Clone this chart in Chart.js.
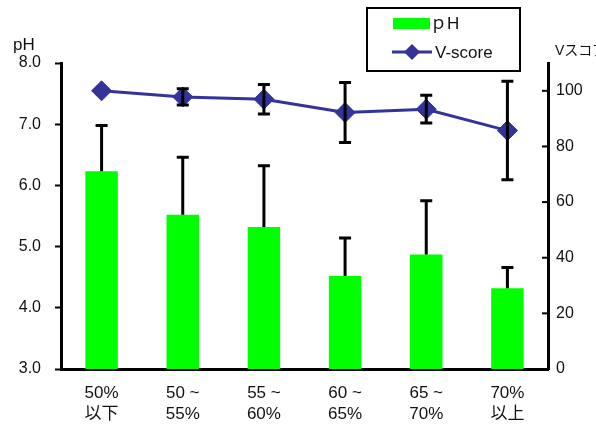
<!DOCTYPE html>
<html>
<head>
<meta charset="utf-8">
<script src="https://cdn.jsdelivr.net/npm/chart.js@4/dist/chart.umd.min.js"></script>
<style>
html,body{margin:0;padding:0;background:#fff;}
#wrap{width:596px;height:428px;position:relative;}
</style>
</head>
<body>
<div id="wrap"><canvas id="chart" width="596" height="428"></canvas></div>
<script>
// data
const categories = [["50%", "以下"], ["50 ~", "55%"], ["55 ~", "60%"], ["60 ~", "65%"], ["65 ~", "70%"], ["70%", "以上"]];
const phMean = [6.23, 5.52, 5.32, 4.52, 4.87, 4.32];
const phSD = [0.75, 0.94, 1.0, 0.62, 0.88, 0.34];
const vScore = [100, 97.8, 97.0, 92.2, 93.4, 85.7];
const vSD = [0, 2.9, 5.3, 10.8, 5.0, 17.7];
const phTicks = [3, 4, 5, 6, 7, 8];
const vTicks = [0, 20, 40, 60, 80, 100];

const FONT = "'Liberation Sans', Arial, 'Noto Sans CJK JP', sans-serif";
const GREEN = "#00FF00";
const NAVY = "#333399";


// error bars, legend box and axis titles
const extras = {
  id: "extras",
  afterDatasetsDraw(chart) {
    const ctx = chart.ctx;
    const x = chart.scales.x, yL = chart.scales.y, yR = chart.scales.y2;
    ctx.save();
    ctx.strokeStyle = "#000";
    ctx.lineWidth = 3;
    ctx.lineCap = "butt";

    // pH error bars (upper only)
    phMean.forEach((m, i) => {
      const px = x.getPixelForValue(i);
      const y0 = yL.getPixelForValue(m);
      const y1 = yL.getPixelForValue(m + phSD[i]);
      ctx.beginPath();
      ctx.moveTo(px, y0); ctx.lineTo(px, y1);
      ctx.moveTo(px - 6, y1); ctx.lineTo(px + 6, y1);
      ctx.stroke();
    });

    // V-score error bars
    vScore.forEach((m, i) => {
      if (!vSD[i]) return;
      const px = x.getPixelForValue(i);
      const yt = yR.getPixelForValue(m + vSD[i]);
      const yb = yR.getPixelForValue(m - vSD[i]);
      ctx.beginPath();
      ctx.moveTo(px, yt); ctx.lineTo(px, yb);
      ctx.moveTo(px - 6, yt); ctx.lineTo(px + 6, yt);
      ctx.moveTo(px - 6, yb); ctx.lineTo(px + 6, yb);
      ctx.stroke();
    });
    ctx.restore();
  },
  afterDraw(chart) {
    const ctx = chart.ctx;
    const yR = chart.scales.y2;
    const area = chart.chartArea;
    ctx.save();

    // right axis inward tick marks
    ctx.strokeStyle = "#000";
    ctx.lineWidth = 2;
    vTicks.forEach(v => {
      const py = yR.getPixelForValue(v);
      ctx.beginPath();
      ctx.moveTo(area.right - 6, py); ctx.lineTo(area.right, py);
      ctx.stroke();
    });

    // axis titles
    ctx.fillStyle = "#111";
    ctx.textBaseline = "middle";
    ctx.textAlign = "left";
    ctx.font = "17px " + FONT;
    ctx.fillText("pH", 13, 45);
    ctx.font = "14px " + FONT;
    ctx.fillText("Vスコア", 555, 51);

    // legend
    ctx.lineWidth = 2;
    ctx.strokeStyle = "#000";
    ctx.fillStyle = "#fff";
    ctx.fillRect(367, 8, 153, 63);
    ctx.strokeRect(367, 8, 153, 63);

    ctx.fillStyle = GREEN;
    ctx.fillRect(393, 18, 37, 11);
    ctx.fillStyle = "#111";
    ctx.font = "17px " + FONT;
    ctx.fillText(chart.data.datasets[0].label, 430, 24);

    ctx.strokeStyle = NAVY;
    ctx.lineWidth = 3;
    ctx.beginPath();
    ctx.moveTo(392, 52); ctx.lineTo(432, 52);
    ctx.stroke();
    ctx.fillStyle = NAVY;
    ctx.beginPath();
    ctx.moveTo(412, 44); ctx.lineTo(420, 52); ctx.lineTo(412, 60); ctx.lineTo(404, 52);
    ctx.closePath();
    ctx.fill();
    ctx.fillStyle = "#111";
    ctx.fillText(chart.data.datasets[1].label, 435, 53);

    ctx.restore();
  }
};


new Chart(document.getElementById("chart"), {
  type: "bar",
  data: {
    labels: categories,
    datasets: [
      {
        label: "ｐH",
        data: phMean,
        backgroundColor: GREEN,
        borderWidth: 0,
        yAxisID: "y",
        categoryPercentage: 1,
        barPercentage: 0.4,
        order: 2
      },
      {
        type: "line",
        label: "V-score",
        data: vScore,
        borderColor: NAVY,
        backgroundColor: NAVY,
        borderWidth: 3,
        pointStyle: "rectRot",
        pointRadius: 10,
        pointHoverRadius: 10,
        pointBorderWidth: 1,
        tension: 0,
        yAxisID: "y2",
        order: 1
      }
    ]
  },
  options: {
    responsive: false,
    animation: false,
    devicePixelRatio: 1,
    layout: { padding: { top: 63, left: 0, right: 0, bottom: 0 } },
    plugins: {
      legend: { display: false },
      tooltip: { enabled: false }
    },
    scales: {
      x: {
        offset: true,
        grid: { display: false, drawTicks: false },
        border: { display: true, color: "#000", width: 3 },
        ticks: {
          color: "#111",
          font: { family: FONT, size: 17, lineHeight: 1.22 },
          padding: 14,
          maxRotation: 0,
          autoSkip: false
        },
        afterFit(s) { s.height = 59; }
      },
      y: {
        position: "left",
        min: 3,
        max: 8,
        afterBuildTicks(s) { s.ticks = phTicks.map(v => ({ value: v })); },
        grid: { drawOnChartArea: false, drawTicks: true, tickLength: 6, tickColor: "#000", tickWidth: 2 },
        border: { display: true, color: "#000", width: 3 },
        ticks: {
          color: "#111",
          font: { family: FONT, size: 16 },
          padding: 14,
          callback: v => v.toFixed(1)
        },
        afterFit(s) { s.width = 61; }
      },
      y2: {
        position: "right",
        min: 0,
        max: 110,
        afterBuildTicks(s) { s.ticks = vTicks.map(v => ({ value: v })); },
        grid: { drawOnChartArea: false, drawTicks: false },
        border: { display: true, color: "#000", width: 3 },
        ticks: {
          color: "#111",
          font: { family: FONT, size: 16 },
          padding: 8
        },
        afterFit(s) { s.width = 48; }
      }
    }
  },
  plugins: [extras]
});
</script>
</body>
</html>
